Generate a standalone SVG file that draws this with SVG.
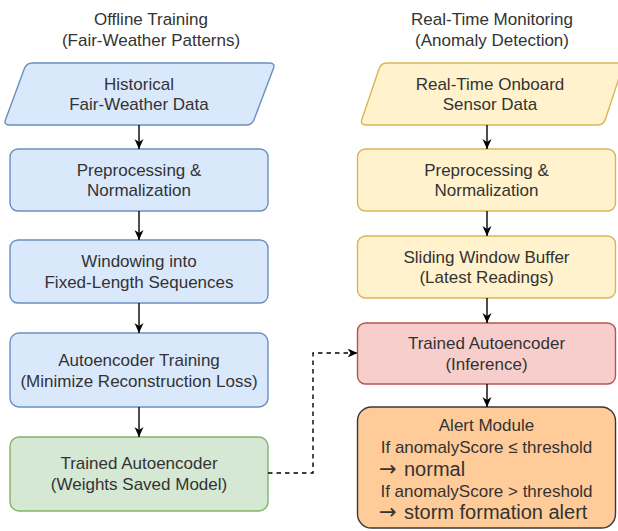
<svg xmlns="http://www.w3.org/2000/svg" width="618" height="531" viewBox="0 0 618 531">
<defs>
<style>
text{font-family:"Liberation Sans",Arial,Helvetica,sans-serif;font-size:17px;fill:#333;text-anchor:middle}
.big{font-size:20px;text-anchor:start}
.ar{font-family:"DejaVu Sans",sans-serif;font-size:21px}
.blue{fill:#dae8fc;stroke:#6c8ebf;stroke-width:1.4}
.yel{fill:#fff2cc;stroke:#d6b656;stroke-width:1.4}
.red{fill:#f8cecc;stroke:#b85450;stroke-width:1.4}
.grn{fill:#d5e8d4;stroke:#82b366;stroke-width:1.4}
.org{fill:#ffcc99;stroke:#36393d;stroke-width:1.4}
.edge{fill:none;stroke:#000;stroke-width:1.4}
.dash{stroke-dasharray:4.5 4}
</style>
<marker id="arr" markerUnits="userSpaceOnUse" markerWidth="11" markerHeight="10" refX="10" refY="4.5" orient="auto">
<path d="M0,0 L10,4.5 L0,9 L3,4.5 Z" fill="#000"/>
</marker>
</defs>

<g id="title-left">
<text x="151" y="25">Offline Training</text>
<text x="151" y="45.5">(Fair-Weather Patterns)</text>
</g>
<g id="title-right">
<text x="492" y="25">Real-Time Monitoring</text>
<text x="492" y="45.5">(Anomaly Detection)</text>
</g>

<g id="historical-data">
<path class="blue" d="M32.5,63 L269.5,63 Q275.5,63 273.4,68.6 L254.1,119.4 Q252,125 246,125 L9.5,125 Q3.5,125 5.6,119.4 L24.4,68.6 Q26.5,63 32.5,63 Z"/>
<text x="139" y="89.5">Historical</text>
<text x="139" y="110">Fair-Weather Data</text>
</g>
<g id="preprocess-left">
<rect class="blue" x="10" y="149" width="258" height="62" rx="8"/>
<text x="139" y="175.5">Preprocessing &amp;</text>
<text x="139" y="196">Normalization</text>
</g>
<g id="windowing">
<rect class="blue" x="10" y="240" width="258" height="63" rx="8"/>
<text x="139" y="267">Windowing into</text>
<text x="139" y="287.5">Fixed-Length Sequences</text>
</g>
<g id="ae-training">
<rect class="blue" x="10" y="333" width="258" height="74" rx="9"/>
<text x="139" y="366">Autoencoder Training</text>
<text x="139" y="386.5">(Minimize Reconstruction Loss)</text>
</g>
<g id="trained-ae">
<rect class="grn" x="10" y="437" width="258" height="74" rx="9"/>
<text x="139" y="469">Trained Autoencoder</text>
<text x="139" y="489.5">(Weights Saved Model)</text>
</g>

<g id="sensor-data">
<path class="yel" d="M387,63 L618,63 Q624,63 622.1,68.7 L605.4,119.3 Q603.5,125 597.5,125 L366,125 Q360,125 361.9,119.3 L379.1,68.7 Q381,63 387,63 Z"/>
<text x="490" y="89.5">Real-Time Onboard</text>
<text x="490" y="110">Sensor Data</text>
</g>
<g id="preprocess-right">
<rect class="yel" x="357.5" y="149" width="258" height="62" rx="8"/>
<text x="486.5" y="175.5">Preprocessing &amp;</text>
<text x="486.5" y="196">Normalization</text>
</g>
<g id="sliding-window">
<rect class="yel" x="357.5" y="236" width="258" height="62" rx="8"/>
<text x="486.5" y="262.5">Sliding Window Buffer</text>
<text x="486.5" y="283">(Latest Readings)</text>
</g>
<g id="ae-inference">
<rect class="red" x="357.5" y="323" width="258" height="61" rx="8"/>
<text x="486.5" y="349">Trained Autoencoder</text>
<text x="486.5" y="369.5">(Inference)</text>
</g>
<g id="alert-module">
<rect class="org" x="357.5" y="407" width="258" height="121" rx="14"/>
<text x="486.5" y="431">Alert Module</text>
<text x="486.5" y="452.5">If anomalyScore ≤ threshold</text>
<text class="big" x="379" y="475.5"><tspan class="ar">→</tspan><tspan x="404">normal</tspan></text>
<text x="486.5" y="496.5">If anomalyScore &gt; threshold</text>
<text class="big" x="379" y="519"><tspan class="ar">→</tspan><tspan x="404">storm formation alert</tspan></text>
</g>

<g id="connectors">
<path class="edge" d="M139,125 V149" marker-end="url(#arr)"/>
<path class="edge" d="M139,211 V240" marker-end="url(#arr)"/>
<path class="edge" d="M139,303 V333" marker-end="url(#arr)"/>
<path class="edge" d="M139,407 V437" marker-end="url(#arr)"/>
<path class="edge" d="M487,125 V149" marker-end="url(#arr)"/>
<path class="edge" d="M487,211 V236" marker-end="url(#arr)"/>
<path class="edge" d="M487,298 V323" marker-end="url(#arr)"/>
<path class="edge" d="M487,384 V407" marker-end="url(#arr)"/>
<path class="edge dash" d="M268,473 H313 V353 H357.5" marker-end="url(#arr)"/>
</g>
</svg>
